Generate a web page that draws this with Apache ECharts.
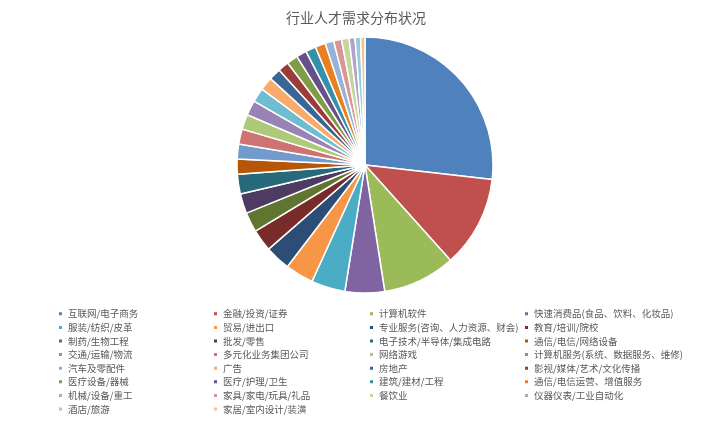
<!DOCTYPE html>
<html>
<head>
<meta charset="utf-8">
<script src="https://cdn.jsdelivr.net/npm/echarts@6/dist/echarts.min.js"></script>
<style>
html,body{margin:0;padding:0;background:#fff;}
#chart{width:712px;height:425px;}
</style>
</head>
<body>
<div id="chart"></div>
<script>
var titleText = '行业人才需求分布状况';
var categories = [
  '互联网/电子商务','金融/投资/证券','计算机软件','快速消费品(食品、饮料、化妆品)',
  '服装/纺织/皮革','贸易/进出口','专业服务(咨询、人力资源、财会)','教育/培训/院校',
  '制药/生物工程','批发/零售','电子技术/半导体/集成电路','通信/电信/网络设备',
  '交通/运输/物流','多元化业务集团公司','网络游戏','计算机服务(系统、数据服务、维修)',
  '汽车及零配件','广告','房地产','影视/媒体/艺术/文化传播',
  '医疗设备/器械','医疗/护理/卫生','建筑/建材/工程','通信/电信运营、增值服务',
  '机械/设备/重工','家具/家电/玩具/礼品','餐饮业','仪器仪表/工业自动化',
  '酒店/旅游','家居/室内设计/装潢'
];
var values = [
  26.9, 11.6, 9.2, 5.0,
  4.3, 3.6, 3.2, 2.8,
  2.5, 2.5, 2.5, 1.9,
  1.9, 1.9, 1.9, 1.9,
  1.8, 1.7, 1.5, 1.4,
  1.4, 1.3, 1.3, 1.3,
  1.1, 1.0, 0.95, 0.75,
  0.7, 0.55
];
var colors = [
  '#4F81BD','#C0504D','#9BBB59','#8064A2','#4BACC6','#F79646',
  '#2C4D75','#772C2A','#5F7530','#4D3B62','#276A7C','#B65708',
  '#729ACA','#CD7371','#AFC97A','#9983B5','#6FBDD1','#F9AB6B',
  '#3A6595','#9C3B38','#7E9D45','#67508A','#3690A8','#E8801F',
  '#95B3D7','#D99694','#C3D69B','#B3A2C7','#93CDDD','#FAC090'
];

var chart = echarts.init(document.getElementById('chart'), null, {renderer:'canvas'});
var data = categories.map(function(c,i){ return {name:c, value:values[i]}; });
var colLefts = [57, 212, 368, 523];
var legends = colLefts.map(function(x, col){
  return {
    orient:'vertical', left:x, top:307, padding:0, itemGap:0,
    itemWidth:5, itemHeight:5, icon:'rect',
    data: categories.filter(function(c,i){ return i % 4 === col; }),
    textStyle:{fontSize:9.5, color:'#595959', lineHeight:13.6, fontFamily:'"Noto Sans CJK SC", sans-serif'},
    selectedMode:false
  };
});
chart.setOption({
  animation:false,
  color: colors,
  title:{text:titleText, left:'center', top:6,
    textStyle:{fontSize:14, fontWeight:'normal', color:'#595959', fontFamily:'"Noto Sans CJK SC", sans-serif'}},
  legend: legends,
  series:[{
    type:'pie', center:[365,165], radius:128, startAngle:90, clockwise:true,
    label:{show:false}, labelLine:{show:false},
    itemStyle:{borderColor:'#fff', borderWidth:1.5},
    emphasis:{disabled:true},
    data:data
  }]
});
</script>
</body>
</html>
